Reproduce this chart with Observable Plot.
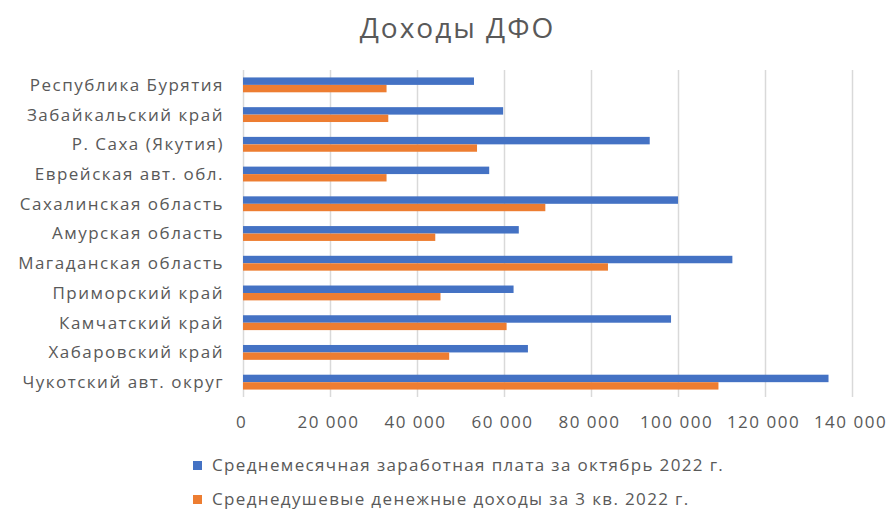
<!DOCTYPE html>
<html>
<head>
<meta charset="utf-8">
<script src="https://cdn.jsdelivr.net/npm/d3@7"></script>
<script src="https://cdn.jsdelivr.net/npm/@observablehq/plot@0.6"></script>
<style>
  body { margin: 0; background: #fff; font-family: "Open Sans", sans-serif; color: #595959; }
  #wrap { width: 889px; height: 509px; position: relative; overflow: hidden; }
  #title { height: 54px; line-height: 54px; text-align: center; padding-left: 26px; font-size: 28px; letter-spacing: 2px; color: #595959; }
  #chart svg { display: block; }
  #legend { padding-left: 193px; padding-top: 8px; font-size: 17px; letter-spacing: 1.35px; }
  .item { height: 34px; line-height: 34px; display: flex; align-items: center; }
  .sw { width: 9px; height: 9px; margin-right: 10px; }
</style>
</head>
<body>
<div id="wrap">
  <div id="title">Доходы ДФО</div>
  <div id="chart"></div>
  <div id="legend"></div>
</div>
<script>
const regions = [
  "Республика Бурятия",
  "Забайкальский край",
  "Р. Саха (Якутия)",
  "Еврейская авт. обл.",
  "Сахалинская область",
  "Амурская область",
  "Магаданская область",
  "Приморский край",
  "Камчатский край",
  "Хабаровский край",
  "Чукотский авт. округ"
];
const wage   = [53100, 59800, 93500, 56600, 100000, 63400, 112500, 62200, 98400, 65500, 134600];
const income = [33000, 33400, 53800, 33000, 69500, 44200, 83900, 45400, 60600, 47400, 109300];
const seriesNames = [
  "Среднемесячная заработная плата за октябрь 2022 г.",
  "Среднедушевые денежные доходы за 3 кв. 2022 г."
];
const seriesColors = ["#4472C4", "#ED7D31"];
const xTicks = [0, 20000, 40000, 60000, 80000, 100000, 120000, 140000];

const data = regions.map((r, i) => ({region: r, wage: wage[i], income: income[i]}));
const fmt = d => d3.format(",")(d).replace(/,/g, " ");

const chart = Plot.plot({
  width: 889,
  height: 386,
  marginLeft: 243,
  marginRight: 37,
  marginTop: 16,
  marginBottom: 43,
  style: {fontFamily: "Open Sans", fontSize: "17px", color: "#595959", background: "#fff", letterSpacing: "1.5px"},
  x: {domain: [0, 140000]},
  y: {domain: regions, paddingInner: 0.5, paddingOuter: 0.25, round: false},
  marks: [
    Plot.gridX(xTicks, {stroke: "#d9d9d9", strokeOpacity: 1, strokeWidth: 1.5}),
    Plot.barX(data, {x: "wage", y: "region", fill: seriesColors[0], insetBottom: 7.4}),
    Plot.barX(data, {x: "income", y: "region", fill: seriesColors[1], insetTop: 7.5}),
    Plot.axisX({ticks: xTicks, tickFormat: fmt, tickSize: 0, tickPadding: 18, label: null, fontSize: 17, dx: -2}),
    Plot.axisY({tickSize: 0, tickPadding: 19.5, label: null, fontSize: 17})
  ]
});
document.getElementById("chart").appendChild(chart);

const legend = document.getElementById("legend");
seriesNames.forEach((name, i) => {
  const it = document.createElement("div");
  it.className = "item";
  const sw = document.createElement("span");
  sw.className = "sw";
  sw.style.background = seriesColors[i];
  const tx = document.createElement("span");
  tx.textContent = name;
  it.appendChild(sw);
  it.appendChild(tx);
  legend.appendChild(it);
});
</script>
</body>
</html>
